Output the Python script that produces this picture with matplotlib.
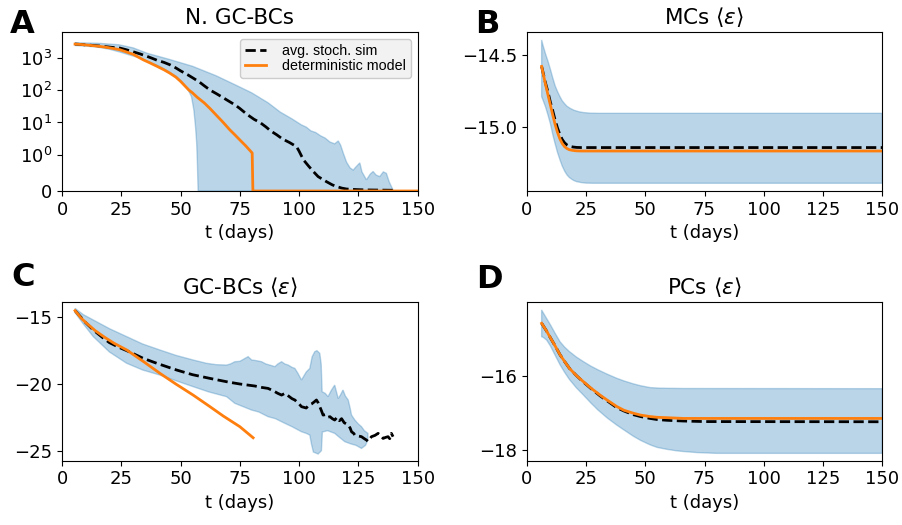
#! /usr/bin/env python
#   GC-BC population and affinity: stochastic sim vs deterministic model
#

import numpy as np
import matplotlib
matplotlib.use('Agg')
import matplotlib.pyplot as plt
from matplotlib.ticker import NullLocator

# ---------------------------------------------------
# Data
# ---------------------------------------------------

# A: number of GC-BCs
t_mean_A = [5.5, 8, 10, 12.5, 15, 17.5, 20, 22, 24.4, 27, 30, 33, 35.7, 38, 40, 43, 45.5,
            48, 50, 53, 55.3, 58, 60, 62.4, 65, 67, 70, 72.9, 75, 78, 81, 83.5, 86, 88,
            90.5, 93, 96, 98.9, 100, 101, 102, 104, 106, 108, 111.5, 114, 116, 118, 120,
            124, 128, 134, 140]
mean_A = [2610, 2530, 2450, 2380, 2300, 2200, 2100, 2030, 1960, 1750, 1510, 1290, 1100,
          950, 830, 710, 600, 480, 390, 295, 233, 175, 135, 100, 78, 64, 47, 35, 27, 17.8,
          12.5, 10, 7.3, 5.5, 4.2, 3.1, 2.4, 1.8, 1.3, 0.97, 0.85, 0.69, 0.54, 0.40, 0.26,
          0.17, 0.12, 0.08, 0.055, 0.04, 0.03, 0.025, 0.02]

t_det_A = [5.5, 8, 10, 12.5, 15, 17.5, 20, 22, 24.4, 27, 30, 32, 34.3, 37, 40, 43, 45.5,
           48, 50, 52, 53.5, 55, 57, 60, 62.4, 65, 68, 70.8, 73, 75, 77.5, 80.2, 80.5, 150]
det_A = [2600, 2530, 2450, 2350, 2250, 2130, 2000, 1880, 1740, 1500, 1260, 1050, 850, 690,
         540, 420, 330, 250, 185, 130, 100, 82, 60, 40, 27, 17, 10, 5.9, 4.1, 2.9, 1.9,
         1.15, 0, 0]

t_up_A = [5.5, 15, 24, 30, 36, 45, 55, 65, 73, 80, 87, 92, 97, 101, 103, 105, 107, 109,
          111, 113, 115, 116.5, 117.5, 118.6, 120, 121.5, 122.8, 124, 125.6, 126.5, 128.4,
          130, 131.2, 132.5, 134, 135.5, 136.8, 138, 139.6, 140]
up_A = [2860, 2760, 2480, 1990, 1350, 890, 540, 275, 145, 82, 40, 21, 12.9, 8.4, 7.2, 5.5,
        4.9, 3.9, 3.3, 2.5, 2.2, 2.7, 2.0, 1.15, 0.80, 0.64, 0.58, 0.67, 0.78, 0.53, 0.31,
        0.47, 0.54, 0.44, 0.40, 0.53, 0.49, 0.25, 0.03, 0]

t_lo_A = [5.5, 10, 15, 20, 24.4, 28, 32.9, 37, 41.3, 45, 48.3, 51.1, 53.2, 54.6, 55.6,
          56.3, 56.8, 57.1, 57.4, 140]
lo_A = [2350, 2250, 2100, 1800, 1480, 1230, 960, 715, 530, 365, 260, 164, 100, 63, 24.5,
        7.5, 2.3, 0.77, 0, 0]

# B: MCs mean affinity
t_mean_B = [6.3, 7, 8, 9, 10, 11, 12, 13, 14, 15, 16, 17, 18, 19.5, 21, 23, 150]
mean_B = [-14.58, -14.63, -14.70, -14.76, -14.83, -14.89, -14.955, -15.01, -15.055,
          -15.09, -15.113, -15.128, -15.137, -15.142, -15.145, -15.146, -15.146]
t_det_B = [6.3, 7, 8, 9, 10, 11, 12, 13, 14, 15, 16, 17, 18, 19.5, 21, 23, 150]
det_B = [-14.58, -14.635, -14.71, -14.78, -14.85, -14.92, -14.985, -15.04, -15.085,
         -15.118, -15.14, -15.153, -15.161, -15.166, -15.169, -15.17, -15.17]
t_up_B = [6.3, 7, 8, 9, 10, 11, 12, 13, 14, 15, 16, 17, 18.3, 20, 22, 24, 27, 30, 150]
up_B = [-14.395, -14.44, -14.495, -14.545, -14.6, -14.66, -14.715, -14.755, -14.79,
        -14.82, -14.84, -14.858, -14.872, -14.886, -14.896, -14.902, -14.906, -14.907,
        -14.907]
t_lo_B = [6.3, 7, 8, 9, 10, 11, 12, 13, 14, 15, 16, 17, 18, 19, 20, 21.1, 23, 25, 28, 150]
lo_B = [-14.79, -14.82, -14.865, -14.92, -14.98, -15.055, -15.12, -15.18, -15.23, -15.275,
        -15.31, -15.337, -15.355, -15.367, -15.377, -15.384, -15.39, -15.394, -15.395,
        -15.395]

# C: GC-BCs mean affinity
t_mean_C = [5.5, 8, 10, 13.2, 17, 20, 24, 27.3, 30, 34.3, 40, 48.3, 55, 62.4, 70, 75,
            81.3, 84, 86.9, 89, 91, 92.6, 94, 95.5, 97, 98.2, 100, 101, 102, 103, 104,
            105.2, 106.3, 107.3, 108, 108.7, 109.4, 110.1, 111, 112, 113, 114, 115, 116,
            117, 117.9, 119, 120.7, 121.5, 122.1, 123, 123.5, 125, 126.3, 127.5, 128.4,
            129, 130.5, 132, 133.3, 134.5, 135.4, 136.5, 137.5, 138.2, 138.9, 139.6]
mean_C = [-14.5, -15.0, -15.4, -15.95, -16.5, -16.9, -17.25, -17.5, -17.72, -18.08,
          -18.45, -18.95, -19.3, -19.58, -19.85, -20.0, -20.15, -20.25, -20.33, -20.5,
          -20.7, -20.83, -20.7, -20.9, -21.1, -21.2, -21.5, -21.7, -21.75, -21.8, -21.6,
          -21.5, -21.35, -21.2, -21.4, -21.7, -22.0, -22.33, -22.3, -22.5, -22.45, -22.6,
          -22.7, -22.5, -22.75, -22.6, -22.9, -23.08, -23.3, -23.58, -23.7, -23.83, -23.9,
          -23.95, -24.1, -24.2, -24.3, -23.95, -23.85, -23.7, -23.9, -24.08, -24.0, -23.95,
          -24.1, -23.7, -23.95]
t_det_C = [5.5, 8, 10.4, 14, 18, 22, 27.3, 34.3, 41.3, 48, 55.3, 62, 68, 75, 80.6]
det_C = [-14.5, -15.05, -15.45, -16.0, -16.5, -16.95, -17.45, -18.31, -19.2, -20.0,
         -20.83, -21.65, -22.4, -23.2, -24.03]
t_up_C = [5.5, 9, 13.2, 20, 27.3, 34, 41.3, 48, 55.3, 61, 65, 69.4, 71, 72.9, 75, 77,
          78.5, 80, 82, 84.2, 86, 88, 89.8, 91, 92.6, 94, 95.4, 97, 98.2, 99.5, 101, 102,
          103, 104.5, 105.5, 106.6, 107.5, 108.7, 109.3, 109.7, 111, 112.2, 113.5, 115,
          116.5, 117.5, 118.5, 119.5, 120.7, 121.5, 122.1, 123.5, 125, 126.3, 127.5, 129]
up_C = [-14.33, -14.8, -15.2, -15.85, -16.45, -17.0, -17.45, -17.85, -18.2, -18.45,
        -18.55, -18.58, -18.5, -18.33, -18.3, -18.1, -17.95, -18.2, -18.25, -18.33, -18.5,
        -18.6, -18.7, -18.5, -18.33, -18.5, -18.58, -18.75, -18.83, -19.2, -19.7, -19.4,
        -19.1, -18.83, -17.95, -17.58, -17.5, -17.7, -18.5, -20.58, -20.7, -20.95, -20.5,
        -20.08, -21.1, -20.8, -20.45, -20.9, -21.2, -21.8, -22.33, -22.7, -23.0, -23.2,
        -23.5, -23.7]
t_lo_C = [5.5, 9, 13.2, 20, 27.3, 34, 41.3, 48, 55.3, 62, 69.4, 72.9, 75, 79.9, 83, 86.9,
          90, 94, 97, 101, 103, 104.5, 105.2, 106, 108, 109.4, 109.8, 112, 115, 117, 119.3,
          122, 124, 126.3, 128, 129]
lo_C = [-14.65, -15.5, -16.45, -17.6, -18.45, -18.95, -19.33, -19.75, -20.2, -20.6,
        -20.95, -21.45, -21.6, -21.95, -22.1, -22.45, -22.6, -22.95, -23.2, -23.58, -23.7,
        -23.83, -24.5, -25.1, -25.25, -25.0, -23.6, -23.5, -23.7, -24.0, -24.33, -24.5,
        -24.6, -24.83, -24.6, -24.2]

# D: PCs mean affinity
t_mean_D = [6.3, 7, 8.4, 10, 12, 14.1, 16, 18, 21, 23.9, 27, 30.9, 34, 38, 41, 45, 48, 52,
            55, 59, 66, 75, 150]
mean_D = [-14.59, -14.66, -14.8, -14.98, -15.2, -15.44, -15.62, -15.8, -16.0, -16.17,
          -16.34, -16.54, -16.68, -16.86, -16.95, -17.05, -17.1, -17.15, -17.18, -17.2,
          -17.22, -17.235, -17.24]
t_det_D = [6.3, 7, 8.4, 10, 12, 14.1, 16, 18, 21, 23.9, 27, 30.9, 34, 38, 41, 45, 48, 52,
           55, 59, 66, 150]
det_D = [-14.59, -14.66, -14.8, -14.98, -15.2, -15.44, -15.62, -15.8, -16.0, -16.16,
         -16.33, -16.52, -16.66, -16.83, -16.93, -17.01, -17.06, -17.1, -17.12, -17.13,
         -17.15, -17.15]
t_up_D = [6.3, 7, 8.4, 10, 12, 14.1, 16, 18, 21, 23.9, 27, 30, 34, 38, 41, 45, 48, 52, 56,
          60, 66, 150]
up_D = [-14.23, -14.31, -14.46, -14.63, -14.86, -15.09, -15.23, -15.35, -15.5, -15.62,
        -15.74, -15.84, -15.96, -16.07, -16.14, -16.22, -16.27, -16.32, -16.335, -16.34,
        -16.345, -16.35]
t_lo_D = [6.3, 7, 8.4, 10, 12, 14.1, 16, 18, 21, 23.9, 27, 30, 34, 38, 41, 45, 48, 52, 55,
          59, 63, 66, 72, 80, 150]
lo_D = [-14.95, -14.97, -15.04, -15.2, -15.45, -15.71, -15.91, -16.1, -16.33, -16.52,
        -16.73, -16.92, -17.14, -17.33, -17.46, -17.63, -17.74, -17.86, -17.93, -17.98,
        -18.02, -18.04, -18.07, -18.09, -18.09]


def band(ax, t_up, up, t_lo, lo):
    xs = np.concatenate([t_up, np.array(t_lo)[::-1]])
    ys = np.concatenate([up, np.array(lo)[::-1]])
    ax.fill(xs, ys, color='C0', alpha=0.3, lw=1)


def main():

    BIGFONT = 23
    TFONT = 15.5
    SMFONT = 13

    W, H = 902, 525
    fig = plt.figure(figsize=(W / 100, H / 100), dpi=100)

    def box(l, r, t, b):
        return [l / W, 1 - b / H, (r - l) / W, (b - t) / H]

    axA = fig.add_axes(box(62, 417.7, 32.3, 191))
    axB = fig.add_axes(box(526.7, 882.3, 32.3, 191))
    axC = fig.add_axes(box(62, 417.7, 302.3, 460.7))
    axD = fig.add_axes(box(526.7, 882.3, 302.3, 460.7))

    panels = [
        (axA, 'N. GC-BCs', t_mean_A, mean_A, t_det_A, det_A, t_up_A, up_A, t_lo_A, lo_A),
        (axB, r'MCs $\langle \varepsilon \rangle$', t_mean_B, mean_B, t_det_B, det_B,
         t_up_B, up_B, t_lo_B, lo_B),
        (axC, r'GC-BCs $\langle \varepsilon \rangle$', t_mean_C, mean_C, t_det_C, det_C,
         t_up_C, up_C, t_lo_C, lo_C),
        (axD, r'PCs $\langle \varepsilon \rangle$', t_mean_D, mean_D, t_det_D, det_D,
         t_up_D, up_D, t_lo_D, lo_D),
    ]

    for ax, title, tm, m, td, d, tu, u, tl, l in panels:
        band(ax, tu, u, tl, l)
        ax.plot(tm, m, 'k--', lw=2, label='avg. stoch. sim')
        ax.plot(td, d, color='C1', lw=2, label='deterministic model')
        ax.set_xlim(0, 150)
        ax.set_xticks([0, 25, 50, 75, 100, 125, 150])
        ax.set_xlabel('t (days)', fontsize=SMFONT)
        ax.set_title(title, fontsize=TFONT)
        ax.tick_params(labelsize=SMFONT)

    axA.set_yscale('symlog', linthresh=1)
    axA.set_ylim(0, 6000)
    axA.set_yticks([0, 1, 10, 100, 1000])
    axA.set_yticklabels(['0', r'$\mathdefault{10^{0}}$', r'$\mathdefault{10^{1}}$',
                         r'$\mathdefault{10^{2}}$', r'$\mathdefault{10^{3}}$'])
    axA.yaxis.set_minor_locator(NullLocator())
    leg = axA.legend(loc='upper right', prop={'family': 'Liberation Sans', 'size': 10.3},
                     labelspacing=0.05, handlelength=1.45, handletextpad=1.1,
                     borderpad=0.35, fancybox=True, framealpha=1)
    leg.get_frame().set_facecolor('#f2f2f2')
    leg.get_frame().set_edgecolor('#cccccc')

    axB.set_ylim(-15.449, -14.342)
    axB.set_yticks([-15.0, -14.5])
    axC.set_ylim(-25.75, -13.875)
    axC.set_yticks([-25, -20, -15])
    axD.set_ylim(-18.288, -14.025)
    axD.set_yticks([-18, -16])

    for letter, x, y in [('A', 10, 33.3), ('B', 475, 33.3), ('C', 11, 286.5), ('D', 476, 288.3)]:
        fig.text(x / W, 1 - y / H, letter, fontsize=BIGFONT, fontweight='bold',
                 ha='left', va='baseline')

    fig.savefig('out.png', dpi=100)


if __name__ == "__main__":
    main()
